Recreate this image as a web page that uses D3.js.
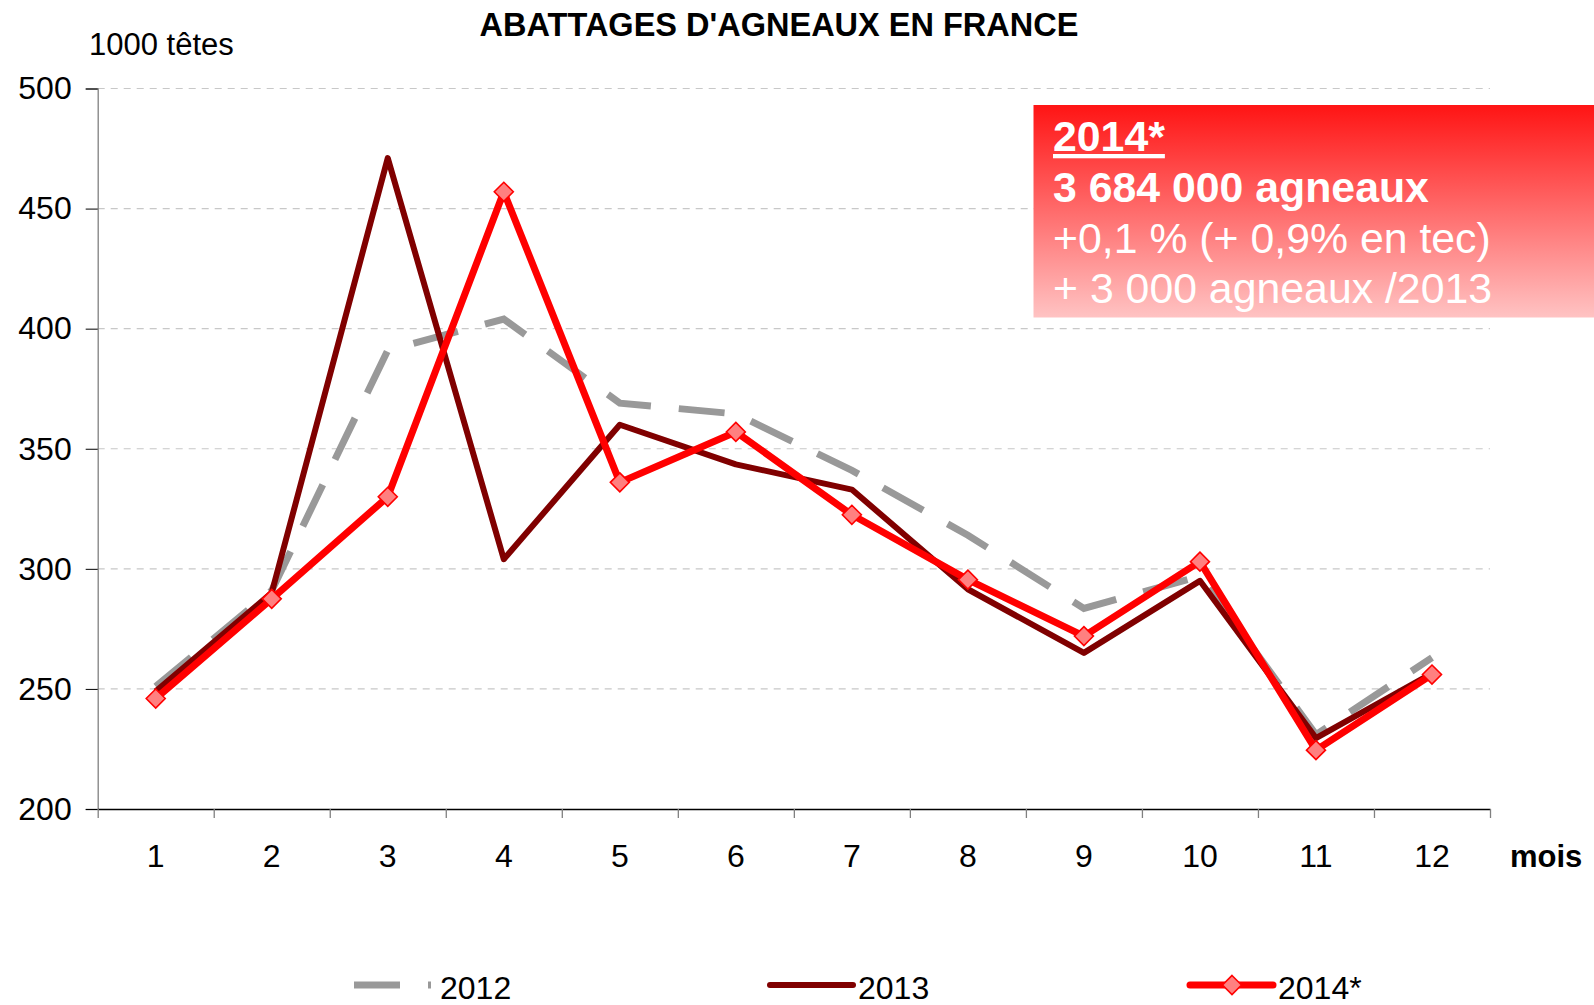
<!DOCTYPE html>
<html>
<head>
<meta charset="utf-8">
<script src="https://cdn.jsdelivr.net/npm/d3@7"></script>
<style>
  body { margin: 0; background: #fff; }
  svg { display: block; font-family: "Liberation Sans", Arial, sans-serif; }
</style>
</head>
<body>
<svg width="1594" height="1005"></svg>
<script>
// Data (thousand heads per month)
const months = ['1', '2', '3', '4', '5', '6', '7', '8', '9', '10', '11', '12'];
const yTicks = [200, 250, 300, 350, 400, 450, 500];
const v2012 = [251, 291, 391, 404, 369, 364.5, 341, 314, 283.5, 297, 231, 263];
const v2013 = [249, 290, 471, 304, 360, 343.5, 333, 291.5, 265, 295, 229.5, 256.5];
const v2014 = [246, 287.5, 330, 457, 336, 357, 322.5, 295.5, 272, 303, 224.5, 256];
const boxLines = ['2014*', '3 684 000 agneaux', '+0,1 % (+ 0,9% en tec)', '+ 3 000 agneaux /2013'];

const series = [
  {name: '2012', values: v2012, color: '#999999', width: 7, dash: '46,28', marker: false},
  {name: '2013', values: v2013, color: '#800000', width: 6, dash: null, marker: false},
  {name: '2014*', values: v2014, color: '#ff0000', width: 7, dash: null, marker: true}
];

const svg = d3.select('svg');
const margin = {top: 88.5, right: 104, bottom: 196, left: 97.7};
const width = +svg.attr('width') - margin.left - margin.right;
const height = +svg.attr('height') - margin.top - margin.bottom;
const defs = svg.append('defs');
const g = svg.append('g').attr('transform', `translate(${margin.left},${margin.top})`);

// Scales
const x = d3.scaleBand().domain(months).range([0, width]).padding(0);
const xEdge = d3.scaleLinear().domain([0, months.length]).range([0, width]);
const y = d3.scaleLinear().domain([200, 500]).range([height, 0]);
const cx = m => x(m) + x.bandwidth() / 2;

// Grid lines
g.append('g')
  .selectAll('line')
  .data(yTicks.filter(t => t > 200)).enter()
  .append('line')
  .attr('x1', 0).attr('x2', width)
  .attr('y1', d => y(d)).attr('y2', d => y(d))
  .attr('stroke', '#c8c8c8')
  .attr('stroke-width', 1.2)
  .attr('stroke-dasharray', '7,6');

// Y axis
const yAxis = g.append('g')
  .call(d3.axisLeft(y).tickValues(yTicks).tickSize(12).tickPadding(14));
yAxis.select('.domain').attr('stroke', '#808080').attr('stroke-width', 1.3);
yAxis.selectAll('.tick line').attr('stroke', '#000');
yAxis.selectAll('.tick text')
  .attr('font-size', 32).attr('fill', '#000')
  .attr('font-family', '"Liberation Sans", Arial, sans-serif');

// X axis: tick marks at band edges, labels at band centres
const xTicks = g.append('g')
  .attr('transform', `translate(0,${height})`)
  .call(d3.axisBottom(xEdge).tickValues(d3.range(0, months.length + 1)).tickFormat('').tickSize(9).tickSizeOuter(0));
xTicks.select('.domain').attr('stroke', '#000').attr('stroke-width', 1.3);
xTicks.selectAll('.tick line').attr('stroke', '#808080').attr('stroke-width', 1.3);

const xLabels = g.append('g')
  .attr('transform', `translate(0,${height})`)
  .call(d3.axisBottom(x).tickSize(0).tickPadding(35));
xLabels.select('.domain').remove();
xLabels.selectAll('.tick text')
  .attr('font-size', 32).attr('fill', '#000')
  .attr('font-family', '"Liberation Sans", Arial, sans-serif');

// Lines
const line = d3.line()
  .x((d, i) => cx(months[i]))
  .y(d => y(d));

g.append('g')
  .selectAll('path')
  .data(series).enter()
  .append('path')
  .attr('d', d => line(d.values))
  .attr('fill', 'none')
  .attr('stroke', d => d.color)
  .attr('stroke-width', d => d.width)
  .attr('stroke-dasharray', d => d.dash)
  .attr('stroke-linejoin', d => d.dash ? 'miter' : 'round');

const diamond = d3.symbol().type(d3.symbolDiamond2).size(230);

g.append('g')
  .selectAll('path')
  .data(v2014).enter()
  .append('path')
  .attr('d', diamond)
  .attr('transform', (d, i) => `translate(${cx(months[i])},${y(d)})`)
  .attr('fill', '#ff8080')
  .attr('stroke', '#ff0000')
  .attr('stroke-width', 1.6);

// Titles
svg.append('text')
  .attr('x', 779).attr('y', 36)
  .attr('text-anchor', 'middle')
  .attr('font-size', 32.5).attr('font-weight', 'bold')
  .text("ABATTAGES D'AGNEAUX EN FRANCE");

svg.append('text')
  .attr('x', 89).attr('y', 55)
  .attr('font-size', 31)
  .text('1000 têtes');

svg.append('text')
  .attr('x', 1510).attr('y', 867)
  .attr('font-size', 31).attr('font-weight', 'bold')
  .text('mois');

// Red annotation box
const grad = defs.append('linearGradient')
  .attr('id', 'boxGrad')
  .attr('x1', 0).attr('y1', 0).attr('x2', 0).attr('y2', 1);
grad.append('stop').attr('offset', '0%').attr('stop-color', '#ff1414');
grad.append('stop').attr('offset', '100%').attr('stop-color', '#ffc3c3');

svg.append('rect')
  .attr('x', 1033.5).attr('y', 105)
  .attr('width', 1594 - 1033.5).attr('height', 212.5)
  .attr('fill', 'url(#boxGrad)');

const boxText = svg.append('g').attr('fill', '#fff').attr('font-size', 42.8);
boxText.selectAll('text')
  .data(boxLines).enter()
  .append('text')
  .attr('x', 1053)
  .attr('y', (d, i) => [151, 201.7, 253.3, 303.3][i])
  .attr('font-weight', (d, i) => i < 2 ? 'bold' : 'normal')
  .attr('text-decoration', (d, i) => i === 0 ? 'underline' : null)
  .text(d => d);

// Legend
const legendX = [354, 770, 1190];
const legend = svg.append('g')
  .selectAll('g')
  .data(series).enter()
  .append('g')
  .attr('transform', (d, i) => `translate(${legendX[i]},985)`);

legend.append('line')
  .attr('x1', 0).attr('x2', (d, i) => i === 0 ? 77 : 83)
  .attr('y1', 0).attr('y2', 0)
  .attr('stroke', d => d.color)
  .attr('stroke-width', d => d.width)
  .attr('stroke-dasharray', d => d.dash)
  .attr('stroke-linecap', d => d.dash ? 'butt' : 'round');

legend.filter(d => d.marker)
  .append('path')
  .attr('d', diamond)
  .attr('transform', 'translate(42,0)')
  .attr('fill', '#ff8080')
  .attr('stroke', '#ff0000')
  .attr('stroke-width', 1.6);

legend.append('text')
  .attr('x', (d, i) => i === 0 ? 86 : 88)
  .attr('y', 14)
  .attr('font-size', 32)
  .text(d => d.name);
</script>
</body>
</html>
